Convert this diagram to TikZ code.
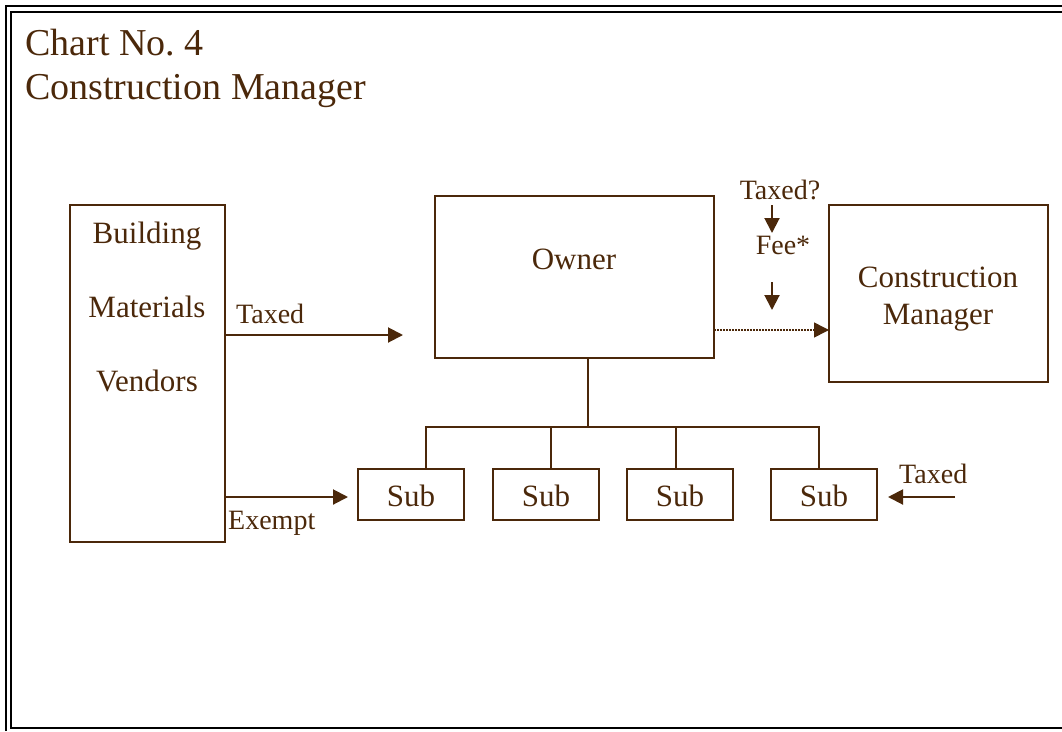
\documentclass[tikz,border=0pt]{standalone}
\usepackage{fontspec}
\setmainfont{Liberation Serif}
\usetikzlibrary{arrows.meta}
\definecolor{ink}{RGB}{75,40,10}
\frenchspacing
\begin{document}
\begin{tikzpicture}[x=1pt,y=-1pt,
  box/.style={draw=ink,line width=2pt,rectangle,inner sep=0pt,outer sep=0pt},
  txt/.style={text=ink,inner sep=0pt,anchor=base,font=\fontsize{31}{37}\selectfont},
  lbl/.style={text=ink,inner sep=0pt,anchor=base west,font=\fontsize{28}{34}\selectfont},
  ttl/.style={text=ink,inner sep=0pt,anchor=base west,font=\fontsize{38}{46}\selectfont},
  conn/.style={draw=ink,line width=2pt},
  arr/.style={conn,-{Triangle[length=15pt,width=15pt]}},
  dotarr/.style={draw=ink,line width=1.5pt,dash pattern=on 1.5pt off 1.5pt,-{Triangle[length=15pt,width=15pt,sep=0pt]}}]
\useasboundingbox (0,0) rectangle (1062,731);
% frame
\draw[black,line width=1.6pt] (6,731) -- (6,6) -- (1062,6);
\draw[black,line width=2.8pt] (1062,12) -- (11,12) -- (11,728) -- (1062,728);
% title
\node[ttl] (t1) at (25,55) {Chart No.\ 4};
\node[ttl] (t2) at (25,99) {Construction Manager};
% boxes
\node[box,minimum width=155pt,minimum height=337pt] (vend) at (147.5,373.5) {};
\node[box,minimum width=279pt,minimum height=162pt] (owner) at (574.5,277) {};
\node[box,minimum width=219pt,minimum height=177pt] (cm) at (938.5,293.5) {};
\node[box,minimum width=106pt,minimum height=51pt] (s1) at (411,494.5) {};
\node[box,minimum width=106pt,minimum height=51pt] (s2) at (546,494.5) {};
\node[box,minimum width=106pt,minimum height=51pt] (s3) at (680,494.5) {};
\node[box,minimum width=106pt,minimum height=51pt] (s4) at (824,494.5) {};
% box texts
\node[txt] (vb) at (147,243) {Building};
\node[txt] (vm) at (147,317) {Materials};
\node[txt] (vv) at (147,391) {Vendors};
\node[txt] (ow) at (574,269) {Owner};
\node[txt] (cm1) at (938,287) {Construction};
\node[txt] (cm2) at (938,324) {Manager};
\node[txt] (s1t) at (411,506) {Sub};
\node[txt] (s2t) at (546,506) {Sub};
\node[txt] (s3t) at (680,506) {Sub};
\node[txt] (s4t) at (824,506) {Sub};
% labels
\node[lbl] (lt) at (236,323) {Taxed};
\node[lbl] (le) at (228,529) {Exempt};
\node[lbl] (lr) at (899,483) {Taxed};
\node[lbl,anchor=base] (lq) at (780,199) {Taxed?};
\node[lbl,anchor=base] (lf) at (783,254) {Fee*};
% coordinates
\coordinate (ta) at (403,335);
\coordinate (ex) at (348,497);
\coordinate (dl) at (0,330);
\coordinate (j) at (588,427);
\coordinate (d1) at (426,0);
\coordinate (d2) at (551,0);
\coordinate (d3) at (676,0);
\coordinate (d4) at (819,0);
\coordinate (fa1) at (772,205);
\coordinate (fa2) at (772,233);
\coordinate (fb1) at (772,282);
\coordinate (fb2) at (772,310);
\coordinate (ra1) at (955,497);
\coordinate (ra2) at (888,497);
% connectors
\draw[arr] (vend.east |- ta) -- (ta);
\draw[arr] (vend.east |- ex) -- (ex);
\draw[dotarr] (owner.east |- dl) -- (cm.west |- dl);
\draw[conn] (owner.south -| j) -- (j);
\draw[conn] (s1.north -| d1) |- (j) -| (s4.north -| d4);
\draw[conn] (s2.north -| d2) -- (j -| d2);
\draw[conn] (s3.north -| d3) -- (j -| d3);
\draw[arr] (fa1) -- (fa2);
\draw[arr] (fb1) -- (fb2);
\draw[arr] (ra1) -- (ra2);
\end{tikzpicture}
\end{document}
